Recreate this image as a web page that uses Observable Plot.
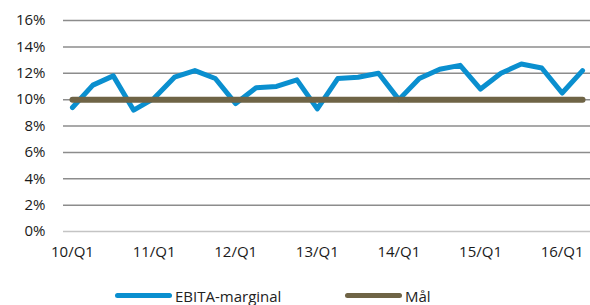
<!DOCTYPE html>
<html>
<head>
<meta charset="utf-8">
<script src="https://cdn.jsdelivr.net/npm/d3@7"></script>
<script src="https://cdn.jsdelivr.net/npm/@observablehq/plot@0.6"></script>
<style>
  body { margin: 0; background: white; }
  #wrap { position: relative; width: 590px; height: 305px; font-family: "Open Sans", sans-serif; overflow: hidden; }
  #legend { position: absolute; left: 0; top: 270px; width: 590px; height: 35px; font-size: 15px; color: #222; }
  .sw { position: absolute; height: 5px; border-radius: 3px; }
  .lt { position: absolute; line-height: 14px; white-space: nowrap; }
</style>
</head>
<body>
<div id="wrap">
  <div id="chart"></div>
  <div id="legend">
    <span class="sw" style="left:115px; top:23px; width:57px; background:#0A8FCF"></span>
    <span class="lt" style="left:175px; top:19px;">EBITA-marginal</span>
    <span class="sw" style="left:345px; top:23px; width:57px; background:#6F6446"></span>
    <span class="lt" style="left:405px; top:19px;">Mål</span>
  </div>
</div>
<script>
const quarters = [
  "10/Q1","10/Q2","10/Q3","10/Q4",
  "11/Q1","11/Q2","11/Q3","11/Q4",
  "12/Q1","12/Q2","12/Q3","12/Q4",
  "13/Q1","13/Q2","13/Q3","13/Q4",
  "14/Q1","14/Q2","14/Q3","14/Q4",
  "15/Q1","15/Q2","15/Q3","15/Q4",
  "16/Q1","16/Q2"
];
const ebitaMarginal = [
  9.4, 11.1, 11.8, 9.2,
  10.1, 11.7, 12.2, 11.6,
  9.7, 10.9, 11.0, 11.5,
  9.3, 11.6, 11.7, 12.0,
  10.0, 11.6, 12.3, 12.6,
  10.8, 12.0, 12.7, 12.4,
  10.5, 12.2
];
const mal = [
  10, 10, 10, 10, 10, 10, 10, 10, 10, 10, 10, 10, 10,
  10, 10, 10, 10, 10, 10, 10, 10, 10, 10, 10, 10, 10
];
const xTickLabels = ["10/Q1","11/Q1","12/Q1","13/Q1","14/Q1","15/Q1","16/Q1"];
const yTicks = [0, 2, 4, 6, 8, 10, 12, 14, 16];

const data = quarters.map((q, i) => ({i, q, v: ebitaMarginal[i], t: mal[i]}));
const xTicks = xTickLabels.map(l => quarters.indexOf(l));

const chart = Plot.plot({
  width: 590,
  height: 270,
  marginLeft: 63,
  marginRight: 0,
  marginTop: 20,
  marginBottom: 39,
  style: {fontFamily: "'Open Sans', sans-serif", fontSize: "15px", color: "#1a1a1a", background: "white"},
  x: {type: "linear", domain: [-0.44, 25.39], ticks: xTicks, tickFormat: i => quarters[i], tickSize: 0, tickPadding: 15, label: null},
  y: {domain: [0, 16], ticks: yTicks, tickFormat: d => d + "%", tickSize: 0, tickPadding: 18, label: null},
  marks: [
    Plot.ruleY(yTicks.filter(d => d > 0), {stroke: "#8c8c8c", strokeWidth: 1.5}),
    Plot.ruleY([0], {stroke: "#c4c4c4", strokeWidth: 1.5}),
    Plot.lineY(data, {x: "i", y: "v", stroke: "#0A8FCF", strokeWidth: 5, strokeLinejoin: "round"}),
    Plot.lineY(data, {x: "i", y: "t", stroke: "#6F6446", strokeWidth: 6, strokeLinecap: "round"})
  ]
});
document.getElementById("chart").appendChild(chart);
</script>
</body>
</html>
